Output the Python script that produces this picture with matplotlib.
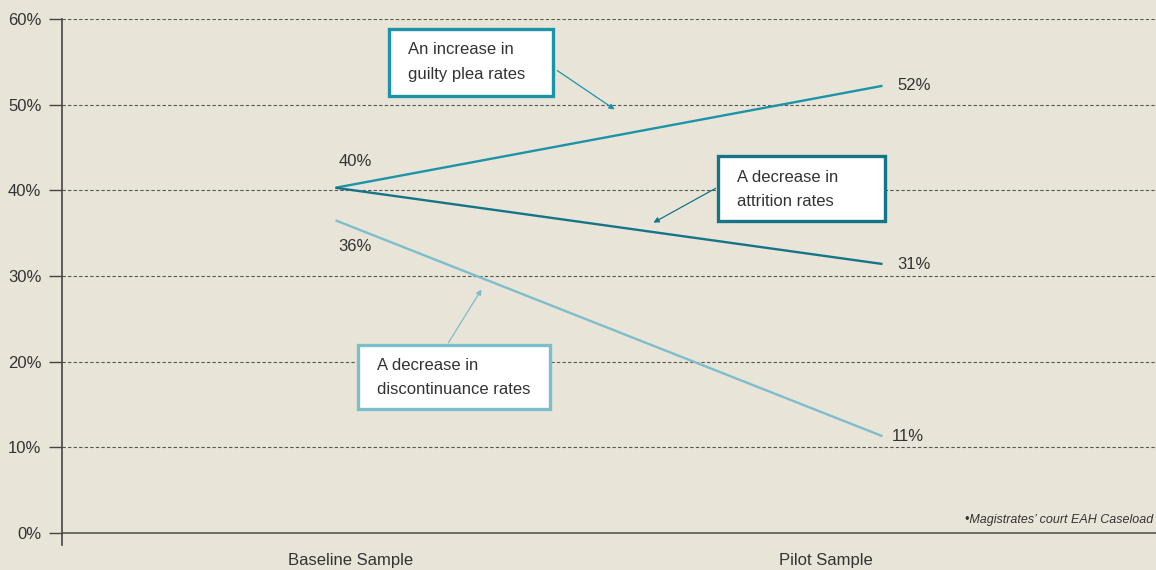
# -*- coding: utf-8 -*-
"""
Evolution des taux : Baseline vs Pilot sample (Magistrates' court EAH caseload)
Sortie: out.png
"""
from matplotlib import pyplot as plt
from matplotlib.patches import Rectangle, FancyArrowPatch

##############################################################################
# DONNEES
##############################################################################

categories = ['Baseline Sample', 'Pilot Sample']
guilty_plea = [40.3, 52.2]
attrition = [40.3, 31.4]
discontinuance = [36.5, 11.3]

guilty_labels = ['40%', '52%']
attrition_labels = ['', '31%']
discontinuance_labels = ['36%', '11%']

y_ticks = [0, 10, 20, 30, 40, 50, 60]
y_tick_labels = ['0%', '10%', '20%', '30%', '40%', '50%', '60%']

note = '\u2022Magistrates\u2019 court EAH Caseload'

##############################################################################
# STYLE
##############################################################################

BG = '#E8E5D8'
TXT = '#333333'
C_GUILTY = '#1C93A7'
C_ATTR = '#157488'
C_DISC = '#7DBDCC'
FS = 12

W, H = 1156, 570
plt.rcParams['font.family'] = ['Liberation Sans', 'DejaVu Sans']


def fig_xy(x, y):
    """pixels (origine en haut a gauche) -> fraction de figure"""
    return x / W, 1 - y / H


fig = plt.figure(figsize=(W / 100, H / 100), dpi=100, facecolor=BG)
ax = fig.add_axes([62 / W, 1 - 545 / H, 1 - 62 / W, (545 - 19) / H])
ax.set_facecolor(BG)

x = [0, 1]
ax.set_xlim(-0.5, 1.5)
ax.set_ylim(-1.4, 60)

# grille pointillee
for yv in y_ticks[1:]:
    ax.axhline(yv, color='#555555', linestyle=(0, (3, 2)), linewidth=0.8, zorder=1)
ax.axhline(0, color='#555555', linewidth=1.2, zorder=1)

ax.plot(x, guilty_plea, color=C_GUILTY, linewidth=1.7, zorder=3, solid_capstyle='butt')
ax.plot(x, attrition, color=C_ATTR, linewidth=1.7, zorder=3, solid_capstyle='butt')
ax.plot(x, discontinuance, color=C_DISC, linewidth=1.7, zorder=3, solid_capstyle='butt')

# axes
for s in ['top', 'right', 'bottom']:
    ax.spines[s].set_visible(False)
ax.spines['left'].set_color('#444444')
ax.spines['left'].set_linewidth(1.2)
ax.set_yticks(y_ticks)
ax.set_yticklabels(y_tick_labels, fontsize=FS, color=TXT)
ax.tick_params(axis='y', length=9.4, width=1, color='#444444', pad=5.5)
ax.set_xticks([0.027, 0.897])
ax.set_xticklabels(categories, fontsize=FS, color=TXT)
ax.tick_params(axis='x', length=0, pad=6)

# etiquettes de valeurs
ax.annotate(guilty_labels[0], (x[0], guilty_plea[0]), xytext=(2, 19),
            textcoords='offset points', fontsize=FS, color=TXT, va='center')
ax.annotate(guilty_labels[1], (x[1], guilty_plea[1]), xytext=(11, 0),
            textcoords='offset points', fontsize=FS, color=TXT, va='center')
ax.annotate(attrition_labels[1], (x[1], attrition[1]), xytext=(11, 0),
            textcoords='offset points', fontsize=FS, color=TXT, va='center')
ax.annotate(discontinuance_labels[0], (x[0], discontinuance[0]), xytext=(2, -19),
            textcoords='offset points', fontsize=FS, color=TXT, va='center')
ax.annotate(discontinuance_labels[1], (x[1], discontinuance[1]), xytext=(7, 0),
            textcoords='offset points', fontsize=FS, color=TXT, va='center')

# encadres
boxes = [
    (389, 29, 164, 67, C_GUILTY, ['An increase in', 'guilty plea rates'], (555, 69), (617, 111)),
    (718, 156, 167, 65, C_ATTR, ['A decrease in', 'attrition rates'], (718, 187), (651, 224)),
    (358, 345, 192, 64, C_DISC, ['A decrease in', 'discontinuance rates'], (447, 345), (483, 287)),
]
for bx, by, bw, bh, col, lines, a0, a1 in boxes:
    fig.add_artist(Rectangle(fig_xy(bx, by + bh), bw / W, bh / H, transform=fig.transFigure,
                             facecolor='white', edgecolor=col, linewidth=2.4, zorder=5))
    tx = bx + 19
    for i, line in enumerate(lines):
        fig.text(*fig_xy(tx, by + 21 + 24 * i), line, fontsize=FS, color=TXT,
                 va='center', ha='left', zorder=6)
    fig.add_artist(FancyArrowPatch(
        fig_xy(*a0), fig_xy(*a1), transform=fig.transFigure, arrowstyle='-|>',
        mutation_scale=8, color=col, linewidth=0.9, zorder=4))

fig.text(1153 / W, 1 - 520 / H, note, fontsize=9, style='italic', color=TXT,
         ha='right', va='center')

plt.savefig('out.png', dpi=100, facecolor=BG)
plt.close()
